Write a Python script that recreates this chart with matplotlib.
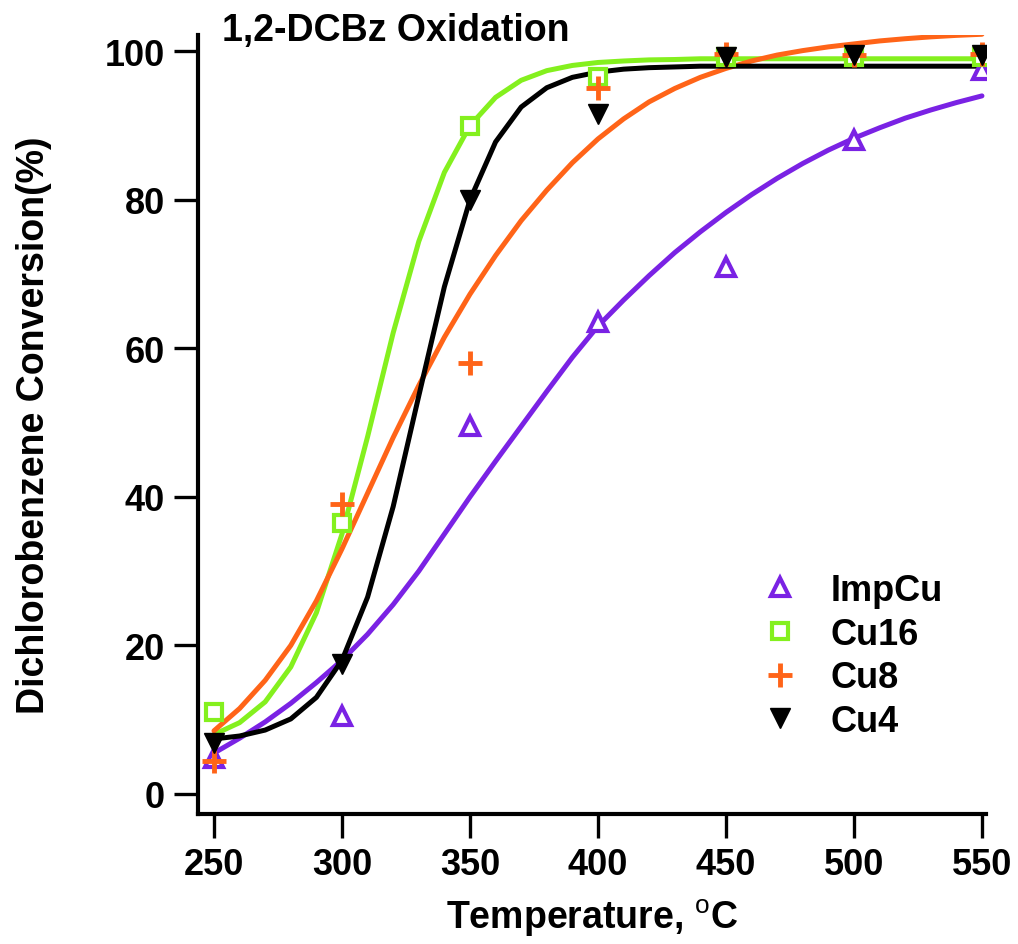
import matplotlib
matplotlib.use("Agg")
import matplotlib.pyplot as plt

plt.rcParams['font.family'] = ['Liberation Sans', 'DejaVu Sans']
plt.rcParams['mathtext.fontset'] = 'custom'
plt.rcParams['mathtext.rm'] = 'Liberation Sans'

# measured points
temps = [250, 300, 350, 400, 450, 500, 550]
imp_cu = [4.8, 10.5, 49.5, 63.5, 71, 88, 97.5]
cu16 = [11, 36.5, 90, 96.5, 99.3, 99.3, 99.3]
cu8 = [4.5, 39, 58, 95, 99.6, 99.5, 99.6]
cu4 = [6.8, 17.5, 80, 91.5, 99.3, 99.5, 99.5]

# fitted curves
t_fit = [250, 260, 270, 280, 290, 300, 310, 320, 330, 340, 350, 360, 370, 380, 390, 400,
         410, 420, 430, 440, 450, 460, 470, 480, 490, 500, 510, 520, 530, 540, 550]
imp_cu_fit = [5.5, 7.5, 9.7, 12.2, 15.0, 18.0, 21.5, 25.5, 30.0, 35.0, 40.0, 44.8, 49.5, 54.2, 58.8, 63.0,
              66.5, 69.8, 72.9, 75.7, 78.3, 80.7, 82.9, 84.9, 86.7, 88.3, 89.7, 91.0, 92.1, 93.1, 94.0]
cu16_fit = [8.0, 9.6, 12.4, 17.1, 24.4, 35.0, 48.1, 62.1, 74.4, 83.7, 90.0, 93.8, 96.1, 97.4, 98.1, 98.5,
            98.7, 98.85, 98.9, 99.0, 99.0, 99.0, 99.0, 99.0, 99.0, 99.0, 99.0, 99.0, 99.0, 99.0, 99.0]
cu8_fit = [8.5, 11.5, 15.3, 20.0, 26.0, 33.0, 40.5, 48.0, 55.0, 61.5, 67.3, 72.5, 77.2, 81.3, 85.0, 88.2,
           90.9, 93.2, 95.0, 96.5, 97.7, 98.7, 99.5, 100.1, 100.6, 101.0, 101.4, 101.7, 101.95, 102.15, 102.3]
cu4_fit = [7.4, 7.8, 8.6, 10.1, 13.0, 18.0, 26.5, 38.7, 53.6, 68.3, 80.0, 87.8, 92.5, 95.1, 96.5, 97.2,
           97.6, 97.8, 97.9, 98.0, 98.0, 98.0, 98.0, 98.0, 98.0, 98.0, 98.0, 98.0, 98.0, 98.0, 98.0]

purple = '#7a22e4'
green = '#84f01e'
orange = '#ff6418'

fig = plt.figure(figsize=(10.18, 9.45), dpi=100)
ax = fig.add_axes([0.1945, 0.1376, 0.7741, 0.8243])

lw = 3.6
for ys, c in [(imp_cu_fit, purple), (cu16_fit, green), (cu8_fit, orange), (cu4_fit, 'black')]:
    ax.plot(t_fit, ys, color=c, lw=lw, solid_joinstyle='round', solid_capstyle='round')

ax.plot(temps, imp_cu, ls='none', marker='^', ms=13, mfc='white', mec=purple, mew=3, label='ImpCu')
ax.plot(temps, cu16, ls='none', marker='s', ms=12, mfc='white', mec=green, mew=3, label='Cu16')
ax.plot(temps, cu8, ls='none', marker='+', ms=17, mec=orange, mew=3.5, label='Cu8')
ax.plot(temps, cu4, ls='none', marker='v', ms=14, mfc='black', mec='black', label='Cu4')

ax.set_xlim(243.75, 551.6)
ax.set_ylim(-2.7, 102.2)
ax.set_xticks([250, 300, 350, 400, 450, 500, 550])
ax.set_yticks([0, 20, 40, 60, 80, 100])

for s in ['top', 'right']:
    ax.spines[s].set_visible(False)
for s in ['left', 'bottom']:
    ax.spines[s].set_linewidth(3)
ax.tick_params(direction='out', length=17, width=2.4, labelsize=26, pad=7)
for lab in ax.get_xticklabels() + ax.get_yticklabels():
    lab.set_fontweight('bold')

ax.set_xlabel(r'Temperature, $^{\mathrm{o}}$C', fontsize=27, fontweight='bold', labelpad=10)
ax.set_ylabel('Dichlorobenzene Conversion(%)', fontsize=27, fontweight='bold', labelpad=38)

fig.text(222 / 1018, 1 - 31 / 945, '1,2-DCBz Oxidation', fontsize=27, fontweight='bold',
         ha='left', va='center')

ax.legend(loc='upper left', bbox_to_anchor=(0.7485, 0.3926), bbox_transform=fig.transFigure,
          frameon=False, prop={'weight': 'bold', 'size': 26},
          handlelength=1.0, handletextpad=0.9, labelspacing=0.24, borderpad=0, borderaxespad=0)

fig.savefig('out.png', dpi=100)
